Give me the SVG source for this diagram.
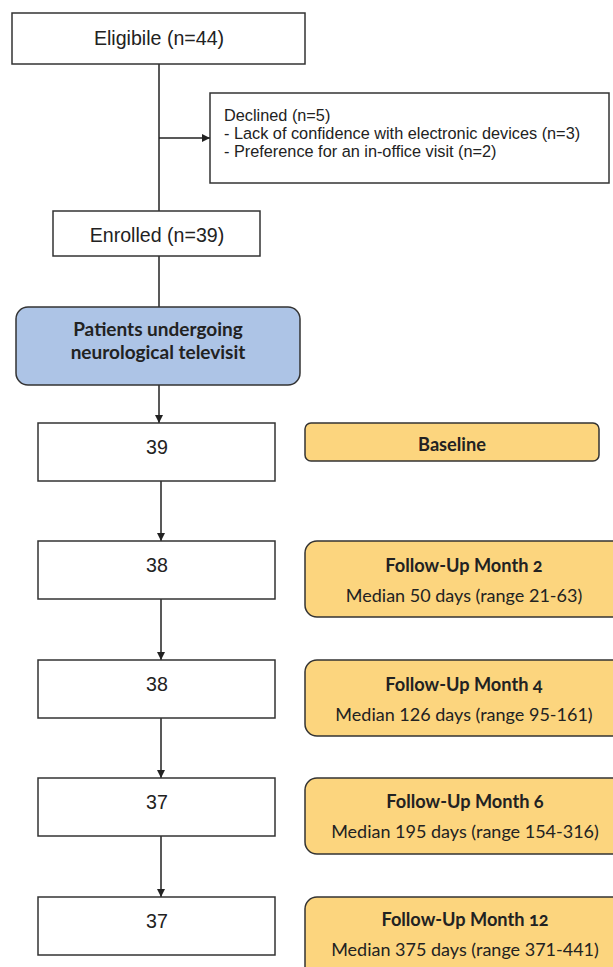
<svg xmlns="http://www.w3.org/2000/svg" width="613" height="967" viewBox="0 0 613 967">
<defs>
<marker id="ah" viewBox="0 0 10 10" refX="10" refY="5" markerWidth="8" markerHeight="8" markerUnits="userSpaceOnUse" orient="auto">
<path d="M0,0 L10,5 L0,10 z" fill="#222"/>
</marker>
<style>
.box{fill:#fff;stroke:#333;stroke-width:1.5}
.blue{fill:#adc4e6;stroke:#333;stroke-width:1.5}
.yel{fill:#fcd57e;stroke:#333;stroke-width:1.5}
.t{font-family:"Liberation Sans",Arial,sans-serif;font-size:19.6px;fill:#222;text-anchor:middle}
.s{font-family:"Liberation Sans",Arial,sans-serif;font-size:16.3px;fill:#222}
.b{font-family:Lato,"Open Sans",sans-serif;font-weight:bold;font-size:19px;fill:#222;text-anchor:middle}
.fb{font-family:Lato,"Open Sans",sans-serif;font-weight:bold;font-size:18.2px;fill:#222;text-anchor:middle;font-variant-numeric:oldstyle-nums}
.r{font-family:Lato,"Open Sans",sans-serif;font-size:18px;fill:#222;text-anchor:middle}
.ln{stroke:#222;stroke-width:1.5;fill:none}
</style>
</defs>
<rect width="613" height="967" fill="#fff"/>
<g id="connectors">
<line class="ln" x1="159" y1="64" x2="159" y2="211"/>
<line class="ln" x1="159" y1="138" x2="210" y2="138" marker-end="url(#ah)"/>
<line class="ln" x1="159" y1="256" x2="159" y2="307"/>
<line class="ln" x1="159" y1="385" x2="159" y2="423" marker-end="url(#ah)"/>
<line class="ln" x1="161" y1="481" x2="161" y2="541" marker-end="url(#ah)"/>
<line class="ln" x1="161" y1="599" x2="161" y2="660" marker-end="url(#ah)"/>
<line class="ln" x1="161" y1="718" x2="161" y2="778" marker-end="url(#ah)"/>
<line class="ln" x1="161" y1="836" x2="161" y2="897" marker-end="url(#ah)"/>
</g>
<g id="eligible">
<rect class="box" x="12" y="13" width="293" height="51"/>
<text class="t" x="159" y="45">Eligibile (n=44)</text>
</g>
<g id="declined">
<rect class="box" x="210" y="93" width="399" height="90"/>
<text class="s" x="224" y="121">Declined (n=5)</text>
<text class="s" x="224" y="139">- Lack of confidence with electronic devices (n=3)</text>
<text class="s" x="224" y="157">- Preference for an in-office visit (n=2)</text>
</g>
<g id="enrolled">
<rect class="box" x="53" y="211" width="207" height="45"/>
<text class="t" x="157" y="242">Enrolled (n=39)</text>
</g>
<g id="televisit">
<rect class="blue" x="16" y="307" width="284" height="78" rx="12"/>
<text class="b" x="158" y="336">Patients undergoing</text>
<text class="b" x="158" y="359">neurological televisit</text>
</g>
<g id="n0">
<rect class="box" x="38" y="423" width="237" height="58"/>
<text class="t" x="157" y="454">39</text>
</g>
<g id="n2">
<rect class="box" x="38" y="541" width="237" height="58"/>
<text class="t" x="157" y="572">38</text>
</g>
<g id="n4">
<rect class="box" x="38" y="660" width="237" height="58"/>
<text class="t" x="157" y="691">38</text>
</g>
<g id="n6">
<rect class="box" x="38" y="778" width="237" height="58"/>
<text class="t" x="157" y="809">37</text>
</g>
<g id="n12">
<rect class="box" x="38" y="897" width="237" height="58"/>
<text class="t" x="157" y="928">37</text>
</g>
<g id="baseline">
<rect class="yel" x="305" y="423" width="294" height="38" rx="6"/>
<text class="fb" x="452" y="451">Baseline</text>
</g>
<g id="fu2">
<rect class="yel" x="305" y="541" width="330" height="76" rx="12"/>
<text class="fb" x="464" y="572">Follow-Up Month 2</text>
<text class="r" x="464" y="602">Median 50 days (range 21-63)</text>
</g>
<g id="fu4">
<rect class="yel" x="305" y="660" width="330" height="76" rx="12"/>
<text class="fb" x="464" y="691">Follow-Up Month 4</text>
<text class="r" x="464" y="721">Median 126 days (range 95-161)</text>
</g>
<g id="fu6">
<rect class="yel" x="305" y="778" width="330" height="76" rx="12"/>
<text class="fb" x="465" y="808">Follow-Up Month 6</text>
<text class="r" x="465" y="838">Median 195 days (range 154-316)</text>
</g>
<g id="fu12">
<rect class="yel" x="305" y="897" width="330" height="90" rx="12"/>
<text class="fb" x="465" y="926">Follow-Up Month 12</text>
<text class="r" x="465" y="956">Median 375 days (range 371-441)</text>
</g>
</svg>
